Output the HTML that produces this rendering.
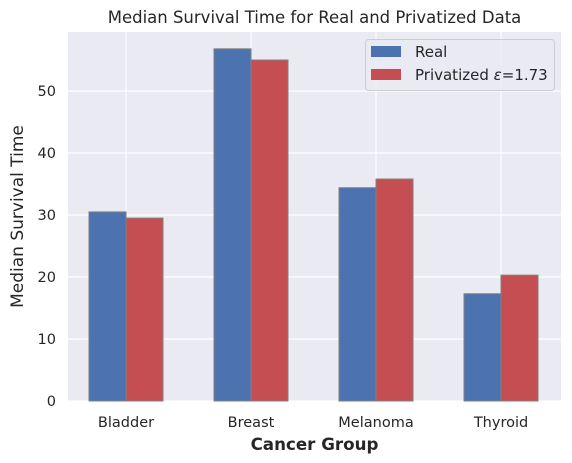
<!DOCTYPE html>
<html><head><meta charset="utf-8"><style>
body{margin:0;background:#fff;}
svg{display:block;font-family:"DejaVu Sans","Liberation Sans",sans-serif;}
</style></head><body>
<svg id="c" width="572" height="463">
<rect x="68" y="32" width="493" height="369" fill="#eaeaf2"/>
<g id="grid"></g><g id="bars"></g><g id="ticks"></g>
<text x="314.5" y="23" text-anchor="middle" font-size="16.5" fill="#262626">Median Survival Time for Real and Privatized Data</text>
<text x="314.5" y="450" text-anchor="middle" font-size="16.7" font-weight="bold" fill="#262626">Cancer Group</text>
<text transform="translate(23,216.5) rotate(-90)" text-anchor="middle" font-size="17" fill="#262626">Median Survival Time</text>
<g>
<rect x="365.5" y="39.5" width="189" height="51" rx="3" fill="#eaeaf2" fill-opacity="0.8" stroke="#cccccc"/>
<rect x="371" y="46" width="30" height="11" fill="#4c72b0"/>
<text x="415" y="57" font-size="15" fill="#262626">Real</text>
<rect x="371" y="69" width="30" height="11" fill="#c44e52"/>
<text x="415" y="80" font-size="15" fill="#262626">Privatized <tspan font-style="italic">ε</tspan>=1.73</text>
</g>
</svg>
<script>
const categories=["Bladder","Breast","Melanoma","Thyroid"];
const realValues=[30.5,56.8,34.4,17.3];
const privValues=[29.5,55.0,35.8,20.3];
const yTicks=[0,10,20,30,40,50];
const NS="http://www.w3.org/2000/svg";
const y0=401,ppu=6.2;
function yScale(v){return y0-v*ppu;}
function xScale(i){return 126+i*125;}
const bw=37;
function mk(t,a,p){const e=document.createElementNS(NS,t);for(const k in a)e.setAttribute(k,a[k]);p.appendChild(e);return e;}
const grid=document.getElementById('grid'),bars=document.getElementById('bars'),ticks=document.getElementById('ticks');
yTicks.forEach(v=>{
const l=mk('line',{x1:68,x2:561,y1:yScale(v),y2:yScale(v),stroke:'#fff','stroke-width':1.2},grid);


const t=mk('text',{x:56,y:yScale(v)+5,'text-anchor':'end','font-size':14.5,fill:'#262626'},ticks);
t.textContent=v;


});
categories.forEach((c,i)=>{
const l=mk('line',{x1:xScale(i),x2:xScale(i),y1:32,y2:401,stroke:'#fff','stroke-width':1.2},grid);


const r=mk('rect',{x:xScale(i)-bw,y:yScale(realValues[i]),width:bw,height:realValues[i]*ppu,fill:'#4c72b0',stroke:'#808080','stroke-width':1},bars);


const p=mk('rect',{x:xScale(i),y:yScale(privValues[i]),width:bw,height:privValues[i]*ppu,fill:'#c44e52',stroke:'#808080','stroke-width':1},bars);


const t=mk('text',{x:xScale(i),y:427,'text-anchor':'middle','font-size':14.5,fill:'#262626'},ticks);
t.textContent=c;


});
</script>
</body></html>
